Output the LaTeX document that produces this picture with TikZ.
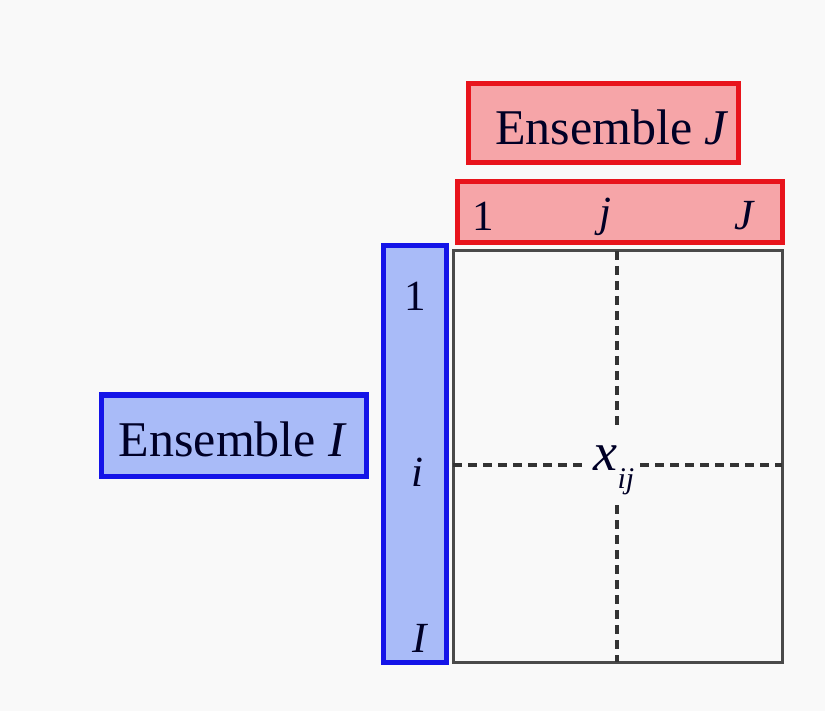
\documentclass[tikz,border=0pt]{standalone}
\usepackage{fontspec}
\setmainfont{Liberation Serif}
\definecolor{bg}{HTML}{F9F9F9}
\definecolor{pinkfill}{HTML}{F6A5A8}
\definecolor{redline}{HTML}{E8141C}
\definecolor{bluefill}{HTML}{A9BBF8}
\definecolor{blueline}{HTML}{1414E8}
\definecolor{gridline}{HTML}{4A4A4A}
\definecolor{dashcol}{HTML}{333333}
\begin{document}
\begin{tikzpicture}[x=1pt,y=-1pt,
  redbox/.style={draw=redline,fill=pinkfill,line width=5pt,inner sep=0pt},
  bluebox/.style={draw=blueline,fill=bluefill,line width=5pt,inner sep=0pt},
  bigtxt/.style={font=\fontsize{50}{54}\selectfont,inner sep=0pt,text=black!85!blue},
  lbl/.style={font=\fontsize{43}{46}\selectfont,inner sep=0pt,text=black!85!blue},
  dashline/.style={dashcol,line width=3.2pt,dash pattern=on 9pt off 6pt}]
\fill[bg] (0,0) rectangle (825,711);
\useasboundingbox (0,0) rectangle (825,711);
% Ensemble J
\node[redbox,minimum width=270pt,minimum height=79pt] (ensJ) at (603,123.5) {};
\node[bigtxt] (ensJtxt) at (612,127) {Ensemble \textit{J}};
% top bar
\node[redbox,minimum width=325pt,minimum height=61pt] (topbar) at (619.5,212.5) {};
\node[lbl] (c1) at (483,216) {1};
\node[lbl] (cj) at (605,217) {\textit{j}};
\node[lbl] (cJ) at (745,216) {\textit{J}};
% left bar
\node[bluebox,minimum width=63pt,minimum height=416pt] (leftbar) at (414.5,454) {};
\node[lbl] (r1) at (415,296) {1};
\node[lbl] (ri) at (417,472) {\textit{i}};
\node[lbl] (rI) at (420,638) {\textit{I}};
% Ensemble I
\node[bluebox,minimum width=265pt,minimum height=81pt] (ensI) at (233.5,435.5) {};
\node[bigtxt] (ensItxt) at (233,439) {Ensemble \textit{I}};
% matrix
\node[draw=gridline,line width=3pt,minimum width=329pt,minimum height=411pt,inner sep=0pt] (mat) at (617.5,456.5) {};
\node[minimum width=56pt,minimum height=80pt,inner sep=0pt] (xij) at (612,465) {};
\node[font=\fontsize{54}{58}\selectfont,inner sep=0pt,text=black!85!blue] (xijtxt) at (614,470) {\textit{x}\raisebox{-0.33em}{\fontsize{30}{32}\selectfont\textit{ij}}};
\coordinate (vtop) at (617,251);
\coordinate (vbot) at (617,662);
\coordinate (hl) at (453,465);
\coordinate (hr) at (782,465);
\draw[dashline] (vtop) -- (vtop |- xij.north);
\draw[dashline] (vtop |- xij.south) -- (vbot);
\draw[dashline] (hl) -- (hl -| xij.west);
\draw[dashline] (hl -| xij.east) -- (hr);
\end{tikzpicture}
\end{document}
